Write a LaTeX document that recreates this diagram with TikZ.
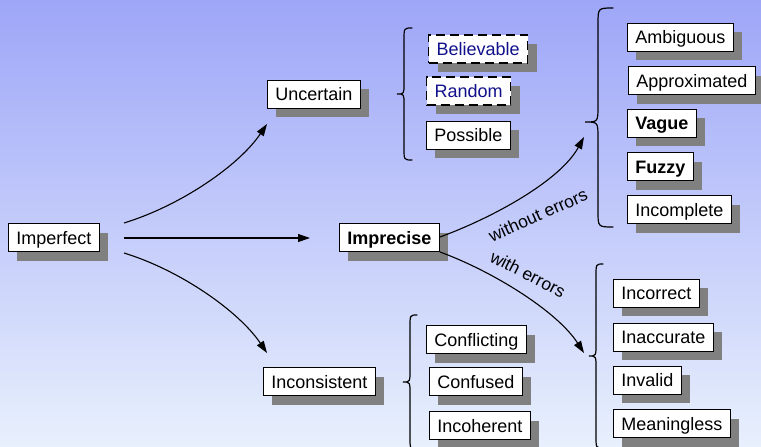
\documentclass[tikz,border=0pt]{standalone}
\usepackage{fontspec}
\setmainfont{Liberation Sans}
\usetikzlibrary{shadows,arrows.meta,calc}
\definecolor{bgtop}{RGB}{158,166,248}
\definecolor{bgbot}{RGB}{232,240,253}
\definecolor{shadowgray}{RGB}{128,128,128}
\definecolor{navytext}{RGB}{16,16,140}
\tikzset{
  box/.style={draw=black, line width=0.8pt, fill=white, anchor=west,
    inner xsep=8pt, inner ysep=0pt, minimum height=28pt,
    text height=13pt, text depth=0pt,
    font=\fontsize{18}{20}\selectfont,
    drop shadow={shadow xshift=9pt, shadow yshift=-9pt, fill=shadowgray, opacity=1}},
  dbox/.style={box, dash pattern=on 9pt off 5pt, line width=1.4pt, text=navytext},
  bbox/.style={box, font=\fontsize{18}{20}\selectfont\bfseries},
  conn/.style={line width=1.1pt, -{Triangle[length=12pt,width=8pt]}},
  bracestyle/.style={line width=1.2pt, line cap=round},
  lbl/.style={font=\fontsize{17.5}{19}\selectfont, inner sep=0pt}
}
\begin{document}
\begin{tikzpicture}[x=1pt,y=-1pt]
\useasboundingbox (0,0) rectangle (761,447);
\shade[top color=bgtop, bottom color=bgbot] (0,0) rectangle (761,447);

% nodes
\node[box] (imperfect) at (8,237.5) {Imperfect};
\node[box] (uncertain) at (267,94) {Uncertain};
\node[dbox] (believable) at (428,49) {Believable};
\node[dbox] (random) at (426,91) {Random};
\node[box] (possible) at (426,135) {Possible};
\node[bbox] (imprecise) at (339,237.5) {Imprecise};
\node[box] (ambiguous) at (627,37) {Ambiguous};
\node[box] (approximated) at (628,80.5) {Approximated};
\node[bbox] (vague) at (627,123) {Vague};
\node[bbox] (fuzzy) at (627,166.5) {Fuzzy};
\node[box] (incomplete) at (627,209.5) {Incomplete};
\node[box] (inconsistent) at (263,381.5) {Inconsistent};
\node[box] (conflicting) at (426,339.5) {Conflicting};
\node[box] (confused) at (429,381.5) {Confused};
\node[box] (incoherent) at (429,425.5) {Incoherent};
\node[box] (incorrect) at (613,293) {Incorrect};
\node[box] (inaccurate) at (613,337) {Inaccurate};
\node[box] (invalid) at (613,380) {Invalid};
\node[box] (meaningless) at (613,423.5) {Meaningless};

% connector end points
\coordinate (s1) at (124,223);
\coordinate (s2) at (124,238);
\coordinate (s3) at (124,253);
\coordinate (e1) at (267,124);
\coordinate (e2) at (310,238);
\coordinate (e3) at (267,353);
\coordinate (p1) at (440,237);
\coordinate (p2) at (440,252);
\coordinate (f1) at (584,137);
\coordinate (f2) at (584,353);

\draw[conn] (s1) .. controls (181,205.5) and (239,165.5) .. (e1);
\draw[conn] (s2) -- (e2);
\draw[conn] (s3) .. controls (181,270.5) and (239,311.5) .. (e3);
\draw[conn] (p1) .. controls (492,218) and (560,181) .. (f1);
\draw[conn] (p2) .. controls (492,271) and (557,311) .. (f2);

\node[lbl, rotate=24] (wo) at (538,215) {without errors};
\node[lbl, rotate=-27] (w) at (528,274) {with errors};

% braces
\draw[bracestyle] (412,28) .. controls (404,28) .. (404,40) -- (404,84)
  .. controls (404,94) .. (397,94) .. controls (404,94) .. (404,104)
  -- (404,148) .. controls (404,160) .. (412,160);
\draw[bracestyle] (613,8) .. controls (598,8) .. (598,24) -- (598,106)
  .. controls (598,122) .. (585,122) .. controls (598,122) .. (598,138)
  -- (598,211) .. controls (598,227) .. (613,227);
\draw[bracestyle] (417,315) .. controls (410,315) .. (410,327) -- (410,370)
  .. controls (410,382) .. (403,382) .. controls (410,382) .. (410,394)
  -- (410,437) .. controls (410,449) .. (417,449);
\draw[bracestyle] (603,264) .. controls (596,264) .. (596,276) -- (596,344)
  .. controls (596,356) .. (589,356) .. controls (596,356) .. (596,368)
  -- (596,436) .. controls (596,448) .. (603,448);
\end{tikzpicture}
\end{document}
